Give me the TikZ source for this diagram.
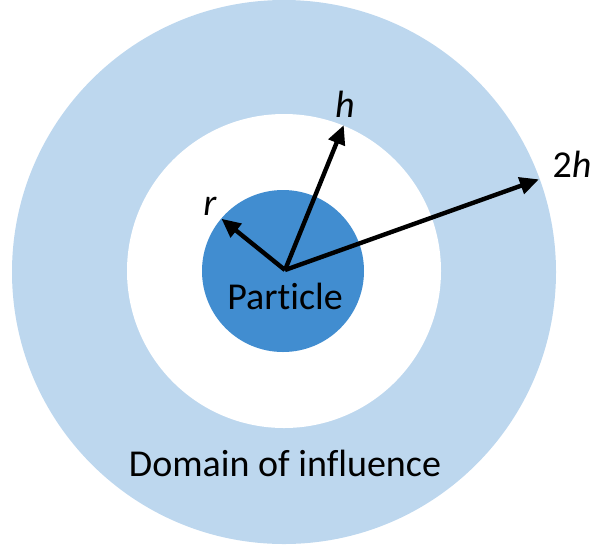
\documentclass[tikz,border=0pt]{standalone}
\usepackage{fontspec}
\setmainfont{Carlito}[Ligatures={NoCommon}]
\usetikzlibrary{arrows.meta, positioning}

\definecolor{domainblue}{RGB}{189,215,238}
\definecolor{particleblue}{RGB}{65,141,208}

\begin{document}
\begin{tikzpicture}[
    x=1pt, y=-1pt,
    disc/.style={circle, inner sep=0pt, outer sep=0pt, draw=none},
    influence/.style={disc, fill=domainblue, minimum size=544pt},
    support/.style={disc, fill=white, minimum size=314pt},
    particle/.style={disc, fill=particleblue, minimum size=162pt},
    txt/.style={font=\fontsize{38}{44}\selectfont, inner sep=0pt},
    line/.style={draw, line width=4.4pt, -{Triangle[length=19pt, width=17pt]}, shorten >=-2pt}
]
    \useasboundingbox (0,0) rectangle (591,550);

    % Circles
    \node (dom) [influence] at (284,272) {};
    \node (sup) [support] at (284,271) {};
    \node (part) [particle] at (283,271) {};

    % Texts
    \node (ptxt) [txt] at (285,296) {Particle};
    \node (dtxt) [txt] at (285,463) {Domain of influence};

    % Radii
    \coordinate (c) at (285,270);
    \coordinate (rt) at (223,220);
    \coordinate (ht) at (343,127);
    \coordinate (tht) at (537,180);

    \node (rlbl) [txt] at (210,206) {\itshape r};
    \node (hlbl) [txt] at (345,104) {\itshape h};
    \node (thlbl) [txt] at (572,164) {2\itshape h};

    % Arrows
    \path [line] (c) -- (rt);
    \path [line] (c) -- (ht);
    \path [line] (c) -- (tht);

\end{tikzpicture}
\end{document}
